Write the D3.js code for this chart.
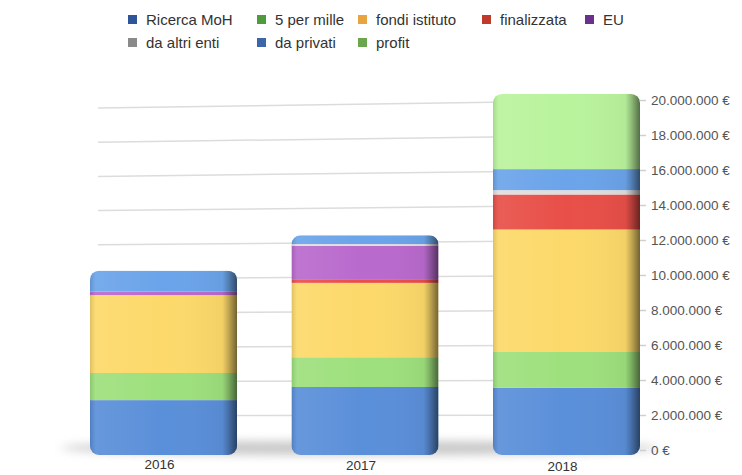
<!DOCTYPE html>
<html>
<head>
<meta charset="utf-8">
<script src="https://cdn.jsdelivr.net/npm/d3@7"></script>
<style>
  body { margin: 0; background: #fff; }
  svg { font-family: "Liberation Sans", Arial, sans-serif; }
</style>
</head>
<body>
<svg id="chart" width="742" height="475"></svg>
<script>
// data (values in euro)
const years = ["2016", "2017", "2018"];
const seriesNames = ["Ricerca MoH", "5 per mille", "fondi istituto", "finalizzata", "EU", "da altri enti", "da privati", "profit"];
const ricercaMoH     = [2850000, 3600000, 3550000];
const cinquePerMille = [1550000, 1700000, 2050000];
const fondiIstituto  = [4450000, 4250000, 7000000];
const finalizzata    = [0, 170000, 2000000];
const eu             = [200000, 1950000, 0];
const altriEnti      = [0, 100000, 250000];
const privati        = [1200000, 500000, 1200000];
const profit         = [0, 0, 4300000];
const tickValues = [0, 2000000, 4000000, 6000000, 8000000, 10000000, 12000000, 14000000, 16000000, 18000000, 20000000];

const legendColors = ["#2d5597", "#4f9a3c", "#e9a43f", "#c0392b", "#6b2f8c", "#8a8a8a", "#3b66aa", "#6ba64f"];
const barColors    = ["#5a8fd9", "#9ee07d", "#fcd96a", "#e84f48", "#b96acd", "#dedede", "#6ba4ea", "#b9f39c"];

const allSeries = [ricercaMoH, cinquePerMille, fondiIstituto, finalizzata, eu, altriEnti, privati, profit];
const table = years.map((y, i) => {
    const row = {year: y};
    seriesNames.forEach((s, k) => row[s] = allSeries[k][i]);
    return row;
});
const stacked = d3.stack().keys(seriesNames)(table);

const svg = d3.select("#chart");
const defs = svg.append("defs");

const x = d3.scaleBand().domain(years).range([90, 640]).paddingInner(0.27).paddingOuter(0);
const y = d3.scaleLinear().domain([0, 20000000]).range([450, 100]);

const it = d3.formatLocale({decimal: ",", thousands: ".", grouping: [3], currency: ["", " €"]});
const fmt = v => it.format(",")(v) + " €";

// floor shadow
defs.append("filter").attr("id", "blur").attr("x", "-20%").attr("y", "-200%").attr("width", "140%").attr("height", "500%")
    .append("feGaussianBlur").attr("stdDeviation", 5);
svg.append("ellipse")
    .attr("cx", 360).attr("cy", y(0) - 2)
    .attr("rx", 300).attr("ry", 7)
    .attr("fill", "#9a9a9a").attr("opacity", 0.55)
    .attr("filter", "url(#blur)");

// gridlines (slight perspective towards the right)
svg.append("g").selectAll("line")
    .data(tickValues.filter(d => d > 0))
    .join("line")
    .attr("x1", 98).attr("x2", 640)
    .attr("y1", d => y(d) + d / 2500000)
    .attr("y2", d => y(d))
    .attr("stroke", "#dcdcdc").attr("stroke-width", 1.5);

// right axis
const axis = svg.append("g")
    .attr("transform", "translate(640,0)")
    .call(d3.axisRight(y).tickValues(tickValues).tickFormat(fmt).tickSize(6).tickPadding(5));
axis.select(".domain").remove();
axis.selectAll(".tick line").attr("stroke", "#cfcfcf").attr("stroke-width", 1.5);
axis.selectAll(".tick text").attr("fill", "#555").attr("font-size", 13.5);

// shading gradient for the bars
const shade = defs.append("linearGradient").attr("id", "shade").attr("x1", 0).attr("x2", 1);
[[0, "#000", 0.12], [0.04, "#fff", 0.08], [0.5, "#fff", 0.0], [0.9, "#000", 0.04], [0.94, "#000", 0.22], [1, "#000", 0.55]]
    .forEach(([o, c, a]) => shade.append("stop").attr("offset", o).attr("stop-color", c).attr("stop-opacity", a));

years.forEach((yr, i) => {
    const x0 = x(yr), w = x.bandwidth();
    const top = y(d3.sum(allSeries, s => s[i]));
    defs.append("clipPath").attr("id", "clip" + i)
        .append("rect")
        .attr("x", x0).attr("y", top)
        .attr("width", w).attr("height", y(0) + 5 - top)
        .attr("rx", 9).attr("ry", 9);
    const g = svg.append("g").attr("clip-path", `url(#clip${i})`);
    g.selectAll("rect.seg")
        .data(stacked.map((s, k) => ({k, d: s[i]})).filter(o => o.d[1] > o.d[0]))
        .join("rect")
        .attr("class", "seg")
        .attr("x", x0).attr("width", w)
        .attr("y", o => y(o.d[1]))
        .attr("height", o => y(o.d[0]) - y(o.d[1]) + (o.d[0] === 0 ? 5 : 0))
        .attr("fill", o => barColors[o.k]);
    g.append("rect")
        .attr("x", x0).attr("y", top)
        .attr("width", w).attr("height", y(0) + 5 - top)
        .attr("fill", "url(#shade)");
    // year label
    svg.append("text")
        .attr("x", x0 + w / 2 - 4).attr("y", 469 + i)
        .attr("text-anchor", "middle")
        .attr("font-size", 13.5).attr("fill", "#333")
        .text(yr);
});

// legend
const legendPos = [[128, 20], [257, 20], [358, 20], [482, 20], [585, 20], [128, 43], [257, 43], [358, 43]];
const legend = svg.append("g").selectAll("g")
    .data(seriesNames)
    .join("g")
    .attr("transform", (d, k) => `translate(${legendPos[k][0]},${legendPos[k][1]})`);
legend.append("rect")
    .attr("x", 0).attr("y", -5).attr("width", 9).attr("height", 9)
    .attr("fill", (d, k) => legendColors[k]);
legend.append("text")
    .attr("x", 18).attr("y", 5)
    .attr("font-size", 15).attr("fill", "#333")
    .text(d => d);
</script>
</body>
</html>
